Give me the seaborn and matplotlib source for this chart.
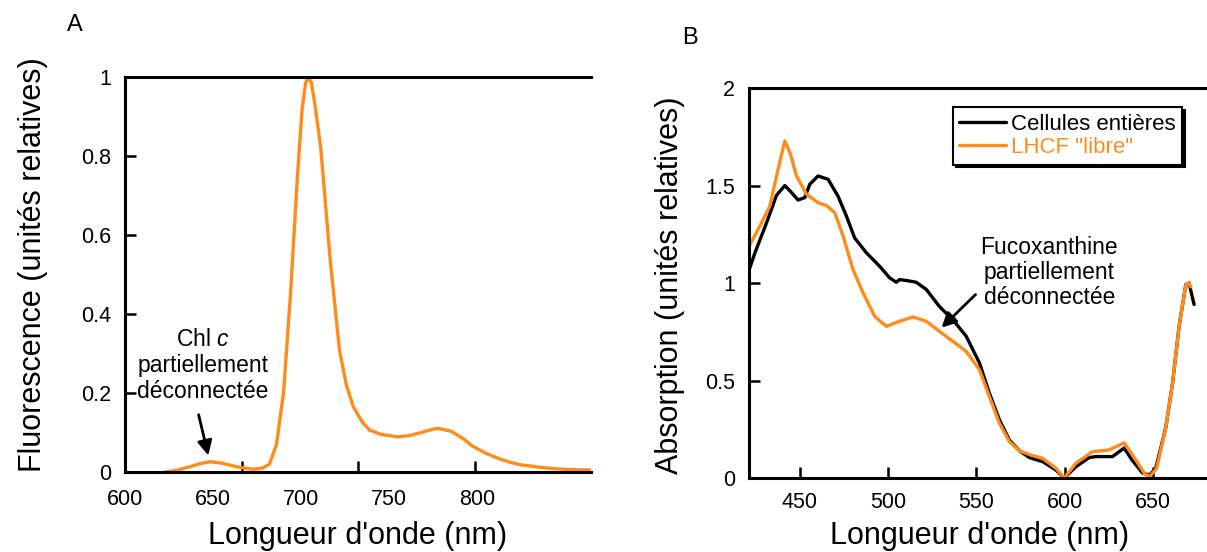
import matplotlib
matplotlib.use("Agg")
import matplotlib.pyplot as plt
import pandas as pd
import seaborn as sns

ORANGE = "#ff8c1a"

# --- A : fluorescence (nm, relative units)
wl_fluo = [617, 622, 627, 632, 636.5, 641, 646, 651, 655, 659, 662, 665, 668, 671, 674,
           676, 677.5, 678.7, 680, 681.5, 684, 688, 692, 695, 698, 702, 705, 710, 717, 722, 727, 734,
           740, 745, 749, 755, 760, 765, 770, 778, 785, 792, 800]
fluo = [0.0, 0.004, 0.012, 0.021, 0.026, 0.023, 0.016, 0.01, 0.007, 0.01, 0.02, 0.07, 0.2, 0.45, 0.75,
        0.92, 0.985, 1.0, 0.985, 0.93, 0.82, 0.54, 0.31, 0.22, 0.165, 0.125, 0.106, 0.095, 0.089, 0.092, 0.1, 0.111,
        0.103, 0.085, 0.066, 0.047, 0.035, 0.025, 0.018, 0.012, 0.008, 0.006, 0.005]
fluo_xlabels = ["600", "650", "700", "750", "800"]
fluo_ylabels = ["0", "0.2", "0.4", "0.6", "0.8", "1"]

# --- B : absorption
wl_cell = [421.4, 424.6, 431.2, 436.8, 441.5, 445.3, 449.0, 452.8, 455.6, 460.3, 466.0, 471.6,
           476.4, 481.0, 487.7, 495.2, 500.8, 504.6, 506.5, 511.0, 515.9, 521.6, 529.0, 536.6,
           544.2, 551.7, 557.3, 563.0, 568.6, 574.3, 580.0, 587.5, 595.0, 599.7, 606.3, 613.8,
           617.6, 627.0, 633.6, 638.0, 644.0, 648.0, 651.5, 657.2, 661.0, 664.7, 668.5, 670.3, 673.2]
abs_cell = [1.07, 1.155, 1.31, 1.45, 1.50, 1.464, 1.426, 1.438, 1.506, 1.549, 1.532, 1.446,
            1.343, 1.232, 1.155, 1.086, 1.027, 1.004, 1.018, 1.012, 1.004, 0.967, 0.88, 0.812,
            0.727, 0.59, 0.435, 0.298, 0.195, 0.14, 0.105, 0.084, 0.041, 0.0, 0.058, 0.105,
            0.11, 0.11, 0.154, 0.093, 0.026, 0.015, 0.05, 0.26, 0.487, 0.778, 0.992, 1.0, 0.89]
wl_lhcf = [421.4, 427.4, 433.0, 437.7, 441.5, 444.4, 448.1, 453.8, 460.3, 465.0, 469.8, 474.5,
           480.1, 485.8, 492.4, 499.0, 506.5, 514.0, 521.6, 529.1, 536.6, 544.2, 551.7, 557.3,
           563.0, 568.6, 574.3, 580.0, 587.5, 595.0, 599.7, 606.3, 615.6, 625.0, 633.6, 639.0,
           645.0, 648.0, 652.0, 657.2, 661.0, 664.7, 668.5, 670.0, 671.4]
abs_lhcf = [1.19, 1.292, 1.395, 1.584, 1.729, 1.669, 1.549, 1.455, 1.412, 1.398, 1.361, 1.241,
            1.069, 0.95, 0.829, 0.778, 0.804, 0.826, 0.804, 0.752, 0.701, 0.649, 0.555, 0.418,
            0.281, 0.187, 0.14, 0.12, 0.101, 0.05, 0.0, 0.076, 0.135, 0.144, 0.18, 0.11,
            0.024, 0.007, 0.05, 0.26, 0.487, 0.778, 0.99, 1.0, 0.98]
abs_xlabels = ["450", "500", "550", "600", "650"]
abs_ylabels = ["0", "0.5", "1", "1.5", "2"]

df_abs = pd.concat([
    pd.DataFrame({"nm": wl_cell, "abs": abs_cell, "spectre": "Cellules entières"}),
    pd.DataFrame({"nm": wl_lhcf, "abs": abs_lhcf, "spectre": 'LHCF "libre"'}),
])

sns.set_style("ticks")
plt.rcParams['font.family'] = ['Liberation Sans', 'DejaVu Sans']
plt.rcParams['mathtext.fontset'] = 'custom'
plt.rcParams['mathtext.rm'] = 'Liberation Sans'
plt.rcParams['mathtext.it'] = 'Liberation Sans:italic'
plt.rcParams.update({
    "text.color": "black", "axes.labelcolor": "black",
    "xtick.direction": "in", "ytick.direction": "in",
    "xtick.major.size": 8, "ytick.major.size": 8,
    "xtick.minor.size": 8, "xtick.major.width": 1.8, "ytick.major.width": 1.8,
    "xtick.minor.width": 1.8, "xtick.color": "black", "ytick.color": "black",
})

fig = plt.figure(figsize=(12.07, 5.52), dpi=100)
axA = fig.add_axes([0.1036, 0.1449, 0.3861, 0.7156])
axB = fig.add_axes([0.6205, 0.134, 0.3795, 0.7065])

# ---------- A
sns.lineplot(x=wl_fluo, y=fluo, ax=axA, color=ORANGE, lw=2.4, sort=False, estimator=None)
axA.set_xlim(600, 800)
axA.set_ylim(0, 1)
# tick marks every 50 nm; labels sit where the original figure put them
axA.set_xticks([650, 700, 750])
axA.set_xticklabels([])
axA.set_xticks([600 + i * 50 * 88 / 116.5 for i in range(5)], fluo_xlabels, minor=True)
axA.tick_params(axis="x", which="minor", length=0, pad=12, labelsize=15.5)
axA.set_yticks([0, 0.2, 0.4, 0.6, 0.8, 1], fluo_ylabels)
axA.set_xlabel("Longueur d'onde (nm)", fontsize=22)
axA.set_ylabel("Fluorescence (unités relatives)", fontsize=22)
axA.xaxis.set_label_coords(0.5, -0.125)
axA.yaxis.set_label_coords(-0.165, 0.524)
axA.text(633.5, 0.27, "Chl $c$\npartiellement\ndéconnectée", ha="center", va="center",
         fontsize=16.5, linespacing=1.15, color="black")
axA.annotate("", xy=(636, 0.035), xytext=(631.3, 0.152),
             arrowprops=dict(arrowstyle="-|>", color="black", lw=2, mutation_scale=22))

# ---------- B
sns.lineplot(data=df_abs, x="nm", y="abs", hue="spectre", palette=["black", ORANGE],
             ax=axB, lw=2.4, sort=False, estimator=None)
axB.set_xlim(421.2, 680.5)
axB.set_ylim(0, 2)
axB.set_xticks([450, 500, 550, 600, 650], abs_xlabels)
axB.set_yticks([0, 0.5, 1, 1.5, 2], abs_ylabels)
axB.set_xlabel("Longueur d'onde (nm)", fontsize=22)
axB.set_ylabel("Absorption (unités relatives)", fontsize=22)
axB.xaxis.set_label_coords(0.504, -0.11)
axB.yaxis.set_label_coords(-0.14, 0.495)
axB.text(591.2, 1.054, "Fucoxanthine\npartiellement\ndéconnectée", ha="center", va="center",
         fontsize=16.5, linespacing=1.1, color="black")
axB.annotate("", xy=(529.1, 0.761), xytext=(550.6, 0.951),
             arrowprops=dict(arrowstyle="-|>", color="black", lw=2, mutation_scale=22))

handles, labels = axB.get_legend_handles_labels()
leg = axB.legend(handles, labels, loc="upper left", bbox_to_anchor=(0.445, 0.951),
                 borderaxespad=0, fontsize=16, frameon=True, fancybox=False,
                 shadow={"color": "black", "alpha": 1}, handlelength=2.1,
                 handletextpad=0.2, labelspacing=0.1, borderpad=0.3)
leg.get_frame().set_edgecolor("black")
leg.get_frame().set_linewidth(1.5)
leg.get_frame().set_alpha(1)
for txt, c in zip(leg.get_texts(), ["black", ORANGE]):
    txt.set_color(c)

for ax in (axA, axB):
    for s in ("left", "top", "bottom"):
        ax.spines[s].set_linewidth(2.2)
        ax.spines[s].set_color("black")
    ax.spines["right"].set_visible(False)
    ax.tick_params(which="major", direction="in", width=1.8, length=8, labelsize=15.5,
                   color="black", labelcolor="black", pad=10, top=False, right=False)
axA.tick_params(axis="x", which="major", pad=12)

fig.text(75 / 1207, 1 - 25 / 552, "A", ha="center", va="center", fontsize=17)
fig.text(690 / 1207, 1 - 38 / 552, "B", ha="center", va="center", fontsize=17)

fig.savefig("out.png", dpi=100)
